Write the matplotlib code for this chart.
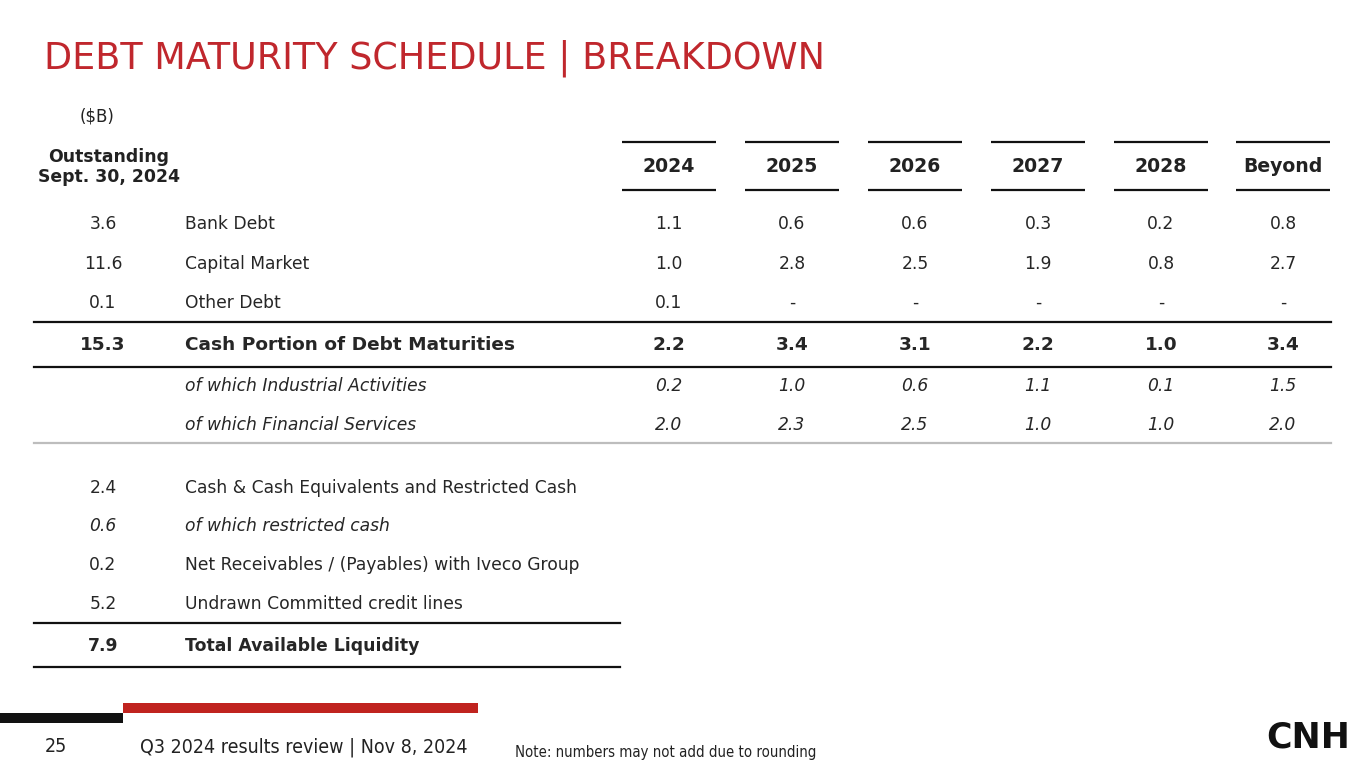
import matplotlib
matplotlib.use("Agg")
import matplotlib.pyplot as plt

# ---- data ----
years = ["2024", "2025", "2026", "2027", "2028", "Beyond"]
debt_labels = ["Bank Debt", "Capital Market", "Other Debt"]
debt_outstanding = [3.6, 11.6, 0.1]
bank_debt = [1.1, 0.6, 0.6, 0.3, 0.2, 0.8]
capital_market = [1.0, 2.8, 2.5, 1.9, 0.8, 2.7]
other_debt = [0.1, None, None, None, None, None]
cash_portion_total = 15.3
cash_portion = [2.2, 3.4, 3.1, 2.2, 1.0, 3.4]
industrial = [0.2, 1.0, 0.6, 1.1, 0.1, 1.5]
financial = [2.0, 2.3, 2.5, 1.0, 1.0, 2.0]
liq_labels = ["Cash & Cash Equivalents and Restricted Cash", "of which restricted cash",
              "Net Receivables / (Payables) with Iveco Group", "Undrawn Committed credit lines"]
liq_values = [2.4, 0.6, 0.2, 5.2]
liq_total = 7.9

RED = "#C0272D"
FONT = "DejaVu Sans"

fig = plt.figure(figsize=(13.65, 7.68), dpi=100)
ax = fig.add_axes([0, 0, 1, 1])
ax.set_xlim(0, 1365)
ax.set_ylim(768, 0)
ax.axis("off")

def fmt(v):
    return "-" if v is None else f"{v:.1f}"

# title
ax.text(44, 58, "DEBT MATURITY SCHEDULE | BREAKDOWN", color=RED, fontsize=26.3,
        family=FONT, va="center", ha="left")
ax.text(97, 117, "($B)", fontsize=12, family=FONT, ha="center", va="center", color="#222222")
ax.text(109, 167, "Outstanding\nSept. 30, 2024", fontsize=12.4, family=FONT, fontweight="bold",
        ha="center", va="center", linespacing=1.2, color="#222222")

col_x = [669, 792, 915, 1038, 1161, 1283]
col_half = 47
for x, y in zip(col_x, years):
    ax.plot([x - col_half, x + col_half], [142, 142], color="#111111", lw=1.6, solid_capstyle="butt")
    ax.plot([x - col_half, x + col_half], [190, 190], color="#111111", lw=1.6, solid_capstyle="butt")
    ax.text(x, 167, y, fontsize=13.6, family=FONT, fontweight="bold", ha="center", va="center",
            color="#222222")

LX_NUM = 103
LX_LAB = 185
FS = 12.3
FSB = 13.3
TXT = "#262626"

def row(y, left, label, vals, weight="normal", style="normal", fs=FS):
    if left is not None:
        ax.text(LX_NUM, y, left, fontsize=fs, family=FONT,
                ha="center", va="center", fontweight=weight, fontstyle=style, color=TXT)
    ax.text(LX_LAB, y, label, fontsize=fs, family=FONT,
            ha="left", va="center", fontweight=weight, fontstyle=style, color=TXT)
    if vals is not None:
        for x, v in zip(col_x, vals):
            ax.text(x, y, fmt(v), fontsize=fs, family=FONT,
                    ha="center", va="center", fontweight=weight, fontstyle=style, color=TXT)

debt_rows = [bank_debt, capital_market, other_debt]
for y, lab, out, vals in zip([224, 264, 303], debt_labels, debt_outstanding, debt_rows):
    row(y, fmt(out), lab, vals)

ax.plot([34, 1331], [322, 322], color="#111111", lw=1.6)
row(345, fmt(cash_portion_total), "Cash Portion of Debt Maturities", cash_portion, weight="bold", fs=FSB)
ax.plot([34, 1331], [367, 367], color="#111111", lw=1.6)
row(386, None, "of which Industrial Activities", industrial, style="italic")
row(425, None, "of which Financial Services", financial, style="italic")
ax.plot([34, 1331], [443, 443], color="#BDBDBD", lw=1.6)

for y, lab, v in zip([488, 526, 565, 604], liq_labels, liq_values):
    st = "italic" if lab.startswith("of which") else "normal"
    row(y, fmt(v), lab, None, style=st)
ax.plot([34, 620], [623, 623], color="#111111", lw=1.6)
row(646, fmt(liq_total), "Total Available Liquidity", None, weight="bold", fs=12.4)
ax.plot([34, 620], [667, 667], color="#111111", lw=1.6)

# footer bars
ax.add_patch(plt.Rectangle((0, 713), 123, 10, color="#111111", lw=0))
ax.add_patch(plt.Rectangle((123, 703), 355, 10, color="#C0231F", lw=0))
ax.text(45, 747, "25", fontsize=14, family=FONT, fontstretch="condensed", ha="left", va="center", color="#222222")
ax.text(140, 747, "Q3 2024 results review | Nov 8, 2024", fontsize=14, family=FONT,
        fontstretch="condensed", ha="left", va="center", color="#222222")
ax.text(515, 752, "Note: numbers may not add due to rounding", fontsize=10.7, family=FONT,
        fontstretch="condensed", ha="left", va="center", color="#222222")
ax.text(1308, 737, "CNH", fontsize=25, family=FONT, fontweight="heavy", ha="center", va="center",
        color="#111111")

fig.savefig("out.png", dpi=100)
